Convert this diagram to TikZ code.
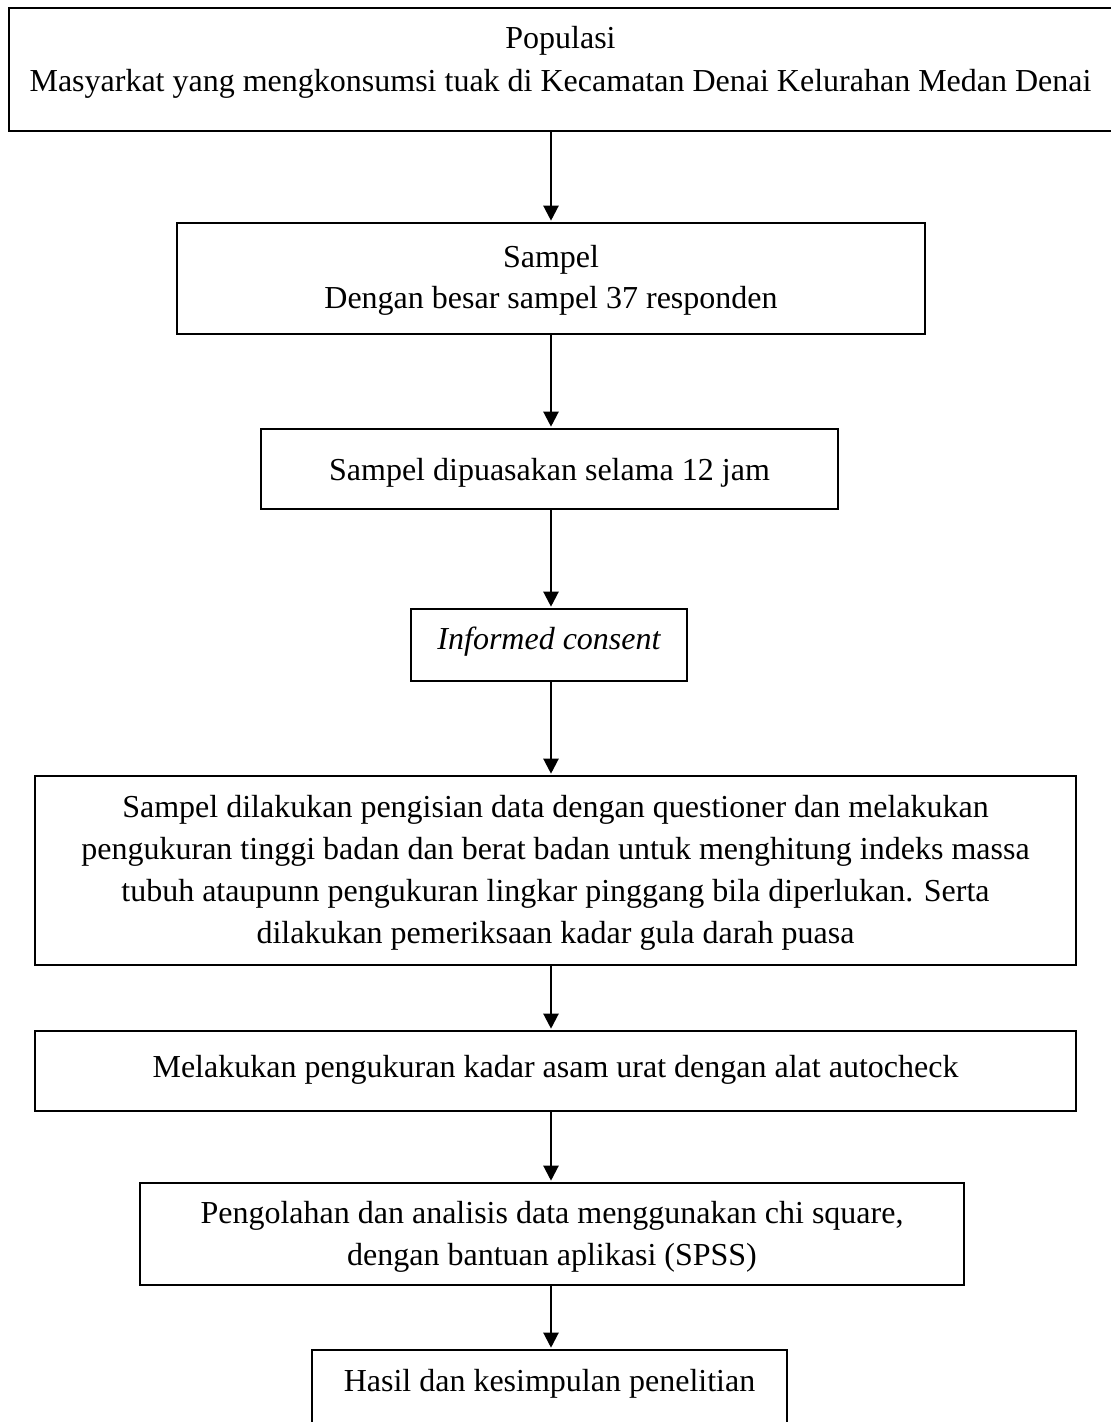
\documentclass[tikz,border=0pt]{standalone}
\usepackage{fontspec}
\setmainfont{Liberation Serif}
\usetikzlibrary{arrows.meta}
\begin{document}
\begin{tikzpicture}[x=1pt,y=-1pt,
  boxnode/.style={draw=black,line width=2.6pt,rectangle,inner sep=0pt,fill=none},
  txt/.style={anchor=base,inner sep=0pt,font=\fontsize{32}{42}\selectfont},
  conn/.style={line width=2.2pt,-{Triangle[width=15pt,length=15pt]},shorten >=1pt}]
\useasboundingbox (0,0) rectangle (1111,1422);
\fill[white] (0,0) rectangle (1111,1422);
\coordinate (axis) at (551,0);
% boxes
\node[boxnode,minimum width=1103pt,minimum height=123pt] (b1) at (560.5,69.5) {};
\node[boxnode,minimum width=748pt,minimum height=111pt] (b2) at (551,278.5) {};
\node[boxnode,minimum width=577pt,minimum height=80pt] (b3) at (549.5,469) {};
\node[boxnode,minimum width=276pt,minimum height=72pt] (b4) at (549,645) {};
\node[boxnode,minimum width=1041pt,minimum height=189pt] (b5) at (555.5,870.5) {};
\node[boxnode,minimum width=1041pt,minimum height=80pt] (b6) at (555.5,1071) {};
\node[boxnode,minimum width=824pt,minimum height=102pt] (b7) at (552,1234) {};
\node[boxnode,minimum width=475pt,minimum height=90pt] (b8) at (549.5,1395) {};
% texts
\node[txt] (t1a) at (560.5,48) {Populasi};
\node[txt] (t1b) at (560.5,91) {Masyarkat yang mengkonsumsi tuak di Kecamatan Denai Kelurahan Medan Denai};
\node[txt] (t2a) at (551,267) {Sampel};
\node[txt] (t2b) at (551,308) {Dengan besar sampel 37 responden};
\node[txt] (t3) at (549.5,480) {Sampel dipuasakan selama 12 jam};
\node[txt] (t4) at (549,649) {\itshape Informed consent};
\node[txt] (t5a) at (555.5,817) {Sampel dilakukan pengisian data dengan questioner dan melakukan};
\node[txt] (t5b) at (555.5,859) {pengukuran tinggi badan dan berat badan untuk menghitung indeks massa};
\node[txt] (t5c) at (555.5,901) {tubuh ataupunn pengukuran lingkar pinggang bila diperlukan. Serta};
\node[txt] (t5d) at (555.5,943) {dilakukan pemeriksaan kadar gula darah puasa};
\node[txt] (t6) at (555.5,1077) {Melakukan pengukuran kadar asam urat dengan alat autocheck};
\node[txt] (t7a) at (552,1223) {Pengolahan dan analisis data menggunakan chi square,};
\node[txt] (t7b) at (552,1265) {dengan bantuan aplikasi (SPSS)};
\node[txt] (t8) at (549.5,1391) {Hasil dan kesimpulan penelitian};
% connectors
\draw[conn] (b1.south -| axis) -- (b2.north -| axis);
\draw[conn] (b2.south -| axis) -- (b3.north -| axis);
\draw[conn] (b3.south -| axis) -- (b4.north -| axis);
\draw[conn] (b4.south -| axis) -- (b5.north -| axis);
\draw[conn] (b5.south -| axis) -- (b6.north -| axis);
\draw[conn] (b6.south -| axis) -- (b7.north -| axis);
\draw[conn] (b7.south -| axis) -- (b8.north -| axis);
\end{tikzpicture}
\end{document}
